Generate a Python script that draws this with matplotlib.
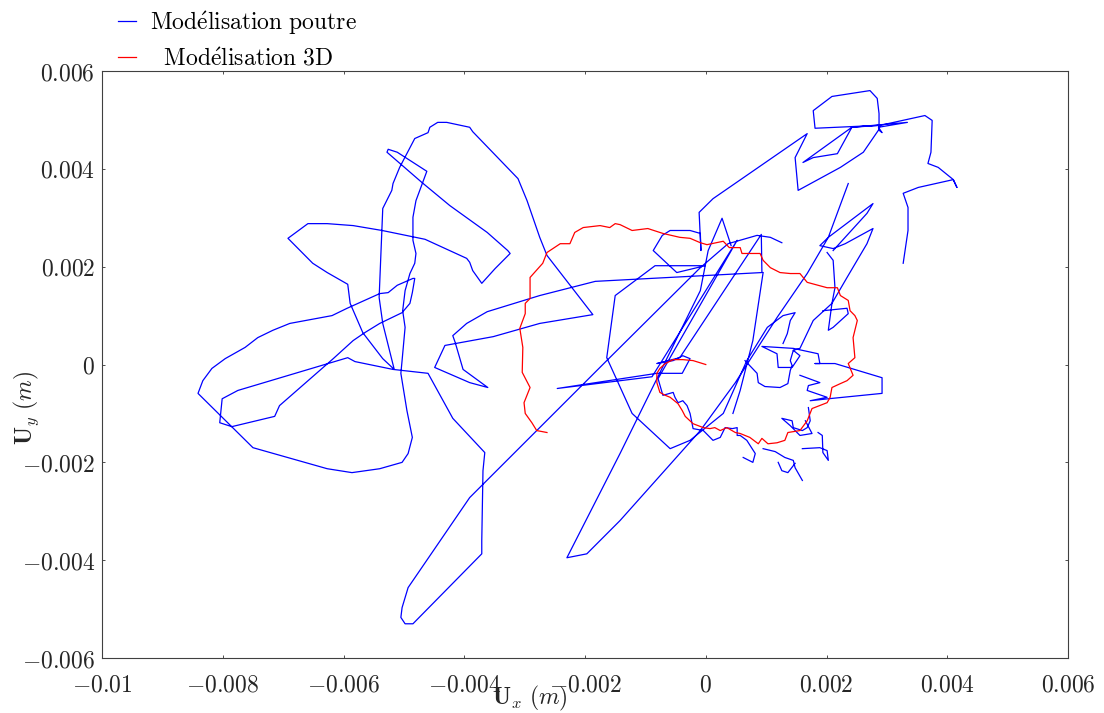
import numpy as np
import matplotlib
matplotlib.use("Agg")
import matplotlib.pyplot as plt

plt.rcParams['mathtext.fontset'] = 'cm'
plt.rcParams['font.family'] = 'serif'

nan = np.nan

# Trajectoire "Modélisation poutre" (en mm, coupures = nan)
poutre_x = [
    1.26, 1.07, 0.85, 0.37, -0.09, -1.64, -2.80, -3.91, -4.93, -5.03, -5.05, -4.98, -4.85, -3.71, -3.71,
    -3.69, -3.66, -4.19, -4.60, -5.18, -5.81, -5.93, -7.75, -8.01, -8.05, -7.85, -7.14, -7.06, -6.17,
    -5.84, -5.65, -5.40, -5.03, -4.90, -4.86, -4.82, -4.85, -5.11, -5.26, -5.40, -5.94, -6.19, -6.89,
    -7.17, -7.42, -7.63, -7.96, -8.18, -8.33, -8.41, -7.50, -6.27, -5.86, -5.40, -5.03, -4.93, -4.86,
    -4.95, -5.05, -5.03, -4.98, -5.02, -4.98, -4.90, -4.82, -4.80, -4.85, -4.85, -4.80, -4.62, -5.11,
    -5.26, -5.28, -4.70, -4.24, -3.62, -3.28, -3.24, -3.49, -3.71, -3.86, -3.91, -3.96, -4.65, -5.36,
    -5.84, -6.27, -6.59, -6.92, -6.67, -6.51, -6.27, -5.93, -5.89, -5.68, -5.35, -5.16, -5.35, -5.41,
    -5.35, -5.20, -5.18, -5.07, -4.82, -4.60, -4.57, -4.44, -4.29, -3.91, -3.86, -3.11, -2.96, -2.75,
    -2.63, -1.87, -2.75, -3.52, -4.32, -4.49, -3.91, -3.61, -4.02, -4.15, -4.19, -3.96, -3.62, -2.75,
    -1.83, 0.93,
    0.92, -0.43, -0.81, -0.54, -0.38, -0.26, -0.39, -0.81, -2.46, -0.89, 0.52, -0.79, -0.71, -0.54,
    -0.51, -0.46, -0.38, -0.31, -0.26, -0.21, -0.04, 0.12, 0.24, 0.32, 0.44, 0.52, 0.52, 0.57, 0.68,
    0.82, 0.78, 0.62, nan,
    1.28, 1.35, 1.40, 1.48, 1.28, 1.02, 0.68, 0.29, -0.26, -0.59, -1.22, -1.64, -1.50, -0.84, -0.01,
    -0.48, -0.87, -0.72, -0.59, -0.26, -0.09, -0.08, -0.11, 0.12, 1.68, 1.48, 1.53, 2.23, 2.61, 2.86,
    2.89, 1.81, 1.78, 2.09, 2.72, 2.84, 2.87, 2.87, 2.92, 2.86, 3.34, 2.42, 1.61, 1.78, 2.18, 2.42,
    2.89, 3.63, 3.75, 3.73, 3.68, 3.85, 4.10, 4.16, 4.10, 3.52, 3.27, 3.35, 3.35, 3.27, nan,
    2.36, 2.03, 1.68, 1.18, 0.49, -0.09, -1.42, -1.97, -2.30, -1.42, -0.09, 0.04, 0.27, 0.42, nan,
    2.11, 2.67, 2.77, 2.03, 1.89, 2.11, 2.31, 2.77, 2.67, 2.34, 2.09, 1.78, 1.56, 1.45, 1.56, 1.43,
    1.20, 1.18, 0.93, 1.45, 1.86, 1.89, 1.81, 2.14, 2.92, 2.92, 2.03, 1.73, 2.01, 1.68, 1.70, 1.89,
    1.56, nan,
    0.65, 0.85, 0.87, 0.98, 1.23, 1.36, 1.40, 1.43, 1.40, 1.45, nan,
    1.70, 1.73, 1.68, 1.60, 1.45, 1.43, 1.26, 1.40, 1.56, 1.76, 1.65, nan,
    0.95, 1.15, 1.31, 1.45, 1.48, 1.60, nan,
    1.20, 1.26, 1.36, 1.48, nan,
    1.60, 1.89, 2.01, 2.03, 1.94, 1.93, 1.86, nan,
    2.01, 2.11, 2.14, 2.09, 2.03, 2.11, 2.36, 2.34, 1.94, nan,
    0.95, 0.78, 0.57, 0.45,
]
poutre_y = [
    2.49, 2.60, 2.64, 2.47, 1.98, 0.08, -1.35, -2.72, -4.56, -4.97, -5.17, -5.30, -5.30, -3.87, -3.60,
    -2.17, -1.80, -1.10, -0.18, -0.10, 0.06, 0.14, -0.53, -0.70, -1.19, -1.27, -1.06, -0.84, 0.12,
    0.49, 0.65, 0.84, 1.06, 1.25, 1.47, 1.76, 1.76, 1.62, 1.47, 1.45, 1.15, 1.00, 0.84,
    0.70, 0.55, 0.35, 0.12, -0.08, -0.33, -0.59, -1.70, -2.13, -2.21, -2.13, -2.00, -1.82, -1.49,
    -0.94, -0.18, 0.08, 0.76, 1.10, 1.51, 1.86, 2.07, 2.27, 2.54, 3.01, 3.35, 3.95, 4.34,
    4.40, 4.34, 3.72, 3.25, 2.70, 2.33, 2.27, 1.96, 1.66, 1.92, 2.09, 2.17, 2.56, 2.74,
    2.84, 2.88, 2.88, 2.58, 2.27, 2.07, 1.88, 1.64, 1.25, 0.65, 0.12, -0.10, 0.84, 1.37,
    3.19, 3.56, 3.70, 4.03, 4.62, 4.74, 4.85, 4.95, 4.95, 4.85, 4.76, 3.80, 3.35, 2.60,
    2.23, 1.02, 0.84, 0.57, 0.39, -0.06, -0.37, -0.47, -0.10, 0.45, 0.59, 0.84, 1.08, 1.41,
    1.70, 1.88,
    2.66, 0.14, 0.02, 0.08, 0.18, 0.12, -0.18, -0.18, -0.49, -0.25, 2.54, -0.29, -0.63, -0.57,
    -0.67, -0.78, -0.74, -0.84, -1.00, -1.31, -1.35, -1.55, -1.49, -1.29, -1.31, -1.29, -1.45, -1.45, -1.55,
    -1.82, -2.00, -1.90, nan,
    0.43, 0.63, 0.90, 1.06, 1.00, 0.76, 0.08, -1.00, -1.55, -1.72, -1.00, 0.14, 1.41, 2.02, 2.02,
    1.88, 2.33, 2.64, 2.74, 2.74, 2.68, 2.33, 3.11, 3.39, 4.72, 4.23, 3.56, 4.03, 4.34, 4.79,
    4.89, 4.83, 5.19, 5.48, 5.60, 5.44, 5.13, 4.79, 4.74, 4.85, 4.95, 4.85, 4.13, 4.23, 4.31, 4.85,
    4.89, 5.09, 4.99, 4.34, 4.11, 4.03, 3.78, 3.62, 3.78, 3.62, 3.50, 3.21, 2.74, 2.07, nan,
    3.70, 2.60, 1.86, 0.96, -0.37, -1.35, -3.19, -3.87, -3.95, -1.82, 1.51, 2.33, 2.99, 2.43, nan,
    2.33, 3.09, 3.29, 2.60, 2.43, 2.37, 2.47, 2.78, 2.47, 1.78, 1.25, 0.90, 0.33, 0.29, 0.18, -0.06,
    -0.06, 0.22, 0.37, 0.33, 0.22, 0.02, 0.02, 0.02, -0.27, -0.59, -0.70, -0.74, -0.67, -0.53, -0.43, -0.37,
    -0.22, nan,
    0.08, -0.18, -0.37, -0.45, -0.47, -0.39, -0.12, -0.02, 0.08, 0.29, nan,
    -0.88, -1.15, -1.29, -1.35, -1.29, -1.15, -1.10, -1.25, -1.45, -1.41, -1.15, nan,
    -1.72, -1.78, -1.90, -1.96, -2.11, -2.37, nan,
    -2.00, -2.17, -2.21, -2.02, nan,
    -1.72, -1.70, -1.76, -1.96, -1.80, -1.45, -1.39, nan,
    2.29, 2.13, 1.57, 1.25, 0.70, 0.76, 1.04, 1.15, 1.10, nan,
    1.88, 0.49, -0.53, -1.00,
]

# Trajectoire "Modélisation 3D" (en mm)
modele3d_x = [
    0.0, -0.21, -0.38, -0.54, -0.67, -0.76, -0.81, -0.81, -0.76, -0.67, -0.59, -0.46, -0.39, -0.34,
    -0.21, -0.04, 0.07, 0.15, 0.24, 0.35, 0.49, 0.57, 0.73, 0.87, 0.93, 1.03, 1.18, 1.31, 1.36, 1.56,
    1.68, 1.76, 2.01, 2.06, 2.09, 2.23, 2.34, 2.44, 2.36, 2.47, 2.44, 2.51, 2.47, 2.39, 2.36, 2.23,
    2.18, 2.01, 1.86, 1.68, 1.56, 1.40, 1.23, 1.07, 0.95, 0.90, 0.60, 0.57, 0.39, 0.29, 0.02, -0.09,
    -0.26, -0.43, -0.71, -0.96, -1.22, -1.42, -1.50, -1.59, -1.75, -2.03, -2.17, -2.25, -2.41, -2.63,
    -2.70, -2.91, -2.91, -2.99, -2.99, -3.08, -3.03, -3.04, -2.91, -3.01, -2.99, -2.88, -2.80, -2.63,
]
modele3d_y = [
    0.0, 0.08, 0.10, 0.10, 0.02, -0.08, -0.18, -0.37, -0.57, -0.63, -0.67, -0.80, -0.94, -1.06,
    -1.21, -1.29, -1.31, -1.29, -1.35, -1.29, -1.39, -1.41, -1.49, -1.62, -1.51, -1.62, -1.60, -1.55, -1.39, -1.35,
    -1.15, -0.90, -0.78, -0.67, -0.47, -0.39, -0.33, -0.22, 0.02, 0.14, 0.55, 0.90, 1.00, 1.10, 1.31, 1.41,
    1.57, 1.57, 1.62, 1.68, 1.86, 1.86, 1.88, 1.98, 2.13, 2.27, 2.27, 2.39, 2.39, 2.52, 2.45, 2.49,
    2.58, 2.60, 2.68, 2.78, 2.74, 2.86, 2.88, 2.80, 2.84, 2.80, 2.70, 2.47, 2.47, 2.29,
    2.07, 1.78, 1.35, 1.25, 1.04, 0.74, 0.35, -0.16, -0.47, -0.78, -1.00, -1.19, -1.35, -1.39,
]

x_ticks = [-0.01, -0.008, -0.006, -0.004, -0.002, 0, 0.002, 0.004, 0.006]
x_tick_labels = [r'$-0.01$', r'$-0.008$', r'$-0.006$', r'$-0.004$', r'$-0.002$', r'$0$',
                 r'$0.002$', r'$0.004$', r'$0.006$']
y_ticks = [-0.006, -0.004, -0.002, 0, 0.002, 0.004, 0.006]
y_tick_labels = [r'$-0.006$', r'$-0.004$', r'$-0.002$', r'$0$', r'$0.002$', r'$0.004$', r'$0.006$']

fig = plt.figure(figsize=(11.04, 7.13), dpi=100)
ax = fig.add_axes([0.0924, 0.0771, 0.875, 0.8233])

ax.plot(np.array(poutre_x) * 1e-3, np.array(poutre_y) * 1e-3, color='blue', lw=0.9,
        label=r'$\mathrm{Mod\acute{e}lisation\ poutre}$')
ax.plot(np.array(modele3d_x) * 1e-3, np.array(modele3d_y) * 1e-3, color='red', lw=0.9,
        label=r'$\ \ \mathrm{Mod\acute{e}lisation\ 3D}$')

ax.set_xlim(-0.01, 0.006)
ax.set_ylim(-0.006, 0.006)
ax.set_xticks(x_ticks)
ax.set_xticklabels(x_tick_labels)
ax.set_yticks(y_ticks)
ax.set_yticklabels(y_tick_labels)
ax.tick_params(direction='in', length=2.5, width=0.7, colors='0.3', labelcolor='0.15',
               labelsize=17, top=True, right=True)
ax.tick_params(axis='x', pad=11)
ax.tick_params(axis='y', pad=5)
for s in ax.spines.values():
    s.set_color('0.25')
    s.set_linewidth(0.8)

ax.set_xlabel(r'$\mathbf{U}_x\ (m)$', fontsize=17, color='0.15')
ax.set_ylabel(r'$\mathbf{U}_y\ (m)$', fontsize=17, color='0.15')
ax.xaxis.set_label_coords(0.443, -0.044)
ax.yaxis.set_label_coords(-0.063, 0.426)

ax.legend(loc='upper left', bbox_to_anchor=(118 / 1104, 1 - 9 / 713), bbox_transform=fig.transFigure,
          frameon=False, fontsize=17, borderpad=0, borderaxespad=0, handlelength=0.75,
          handletextpad=0.6, labelspacing=0.45)

fig.savefig('out.png', dpi=100)
